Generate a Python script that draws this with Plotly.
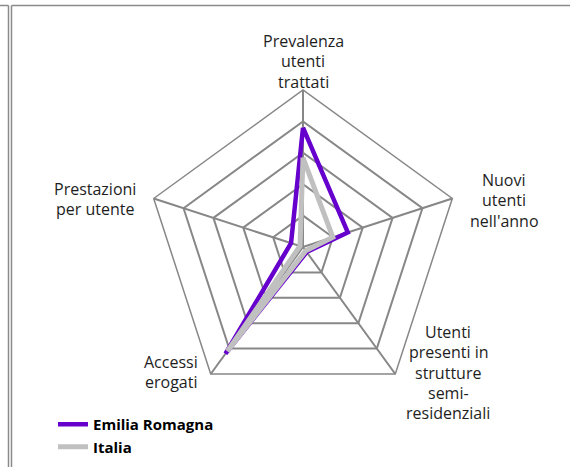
import plotly.graph_objects as go

W, H = 570, 467

categories = [
    "Prevalenza utenti trattati",
    "Nuovi utenti nell'anno",
    "Utenti presenti in strutture semi-residenziali",
    "Accessi erogati",
    "Prestazioni per utente",
]
label_lines = [
    ["Prevalenza", "utenti", "trattati"],
    ["Nuovi", "utenti", "nell'anno"],
    ["Utenti", "presenti in", "strutture", "semi-", "residenziali"],
    ["Accessi", "erogati"],
    ["Prestazioni", "per utente"],
]
emilia = [3.8, 1.5, 0.2, 4.2, 0.4]
italia = [2.85, 1.0, 0.15, 4.1, 0.1]

# label block: centre x and y of first line (pixels)
label_pos = [(303, 41), (504, 180), (448, 332), (171, 362), (95, 189)]
LINE = 20.3


def px(x, y):
    return x / W, 1 - y / H


fig = go.Figure()
fig.add_trace(go.Scatterpolar(
    r=emilia + emilia[:1], theta=categories + categories[:1],
    mode="lines", name="Emilia Romagna", legendgroup="er",
    line=dict(color="#6600CC", width=4.5),
))
fig.add_trace(go.Scatterpolar(
    r=italia + italia[:1], theta=categories + categories[:1],
    mode="lines", name="Italia", legendgroup="it",
    line=dict(color="#C0C0C0", width=5),
))

# polar area: centre (303, 247), radius 157 pixels
cx, cy, R = 303, 247, 157
x0, y0 = px(cx - R, cy + R)
x1, y1 = px(cx + R, cy - R)

grid = "#878787"
fig.update_layout(
    width=W, height=H,
    margin=dict(l=0, r=0, t=0, b=0),
    paper_bgcolor="white",
    font=dict(family="Open Sans, sans-serif", size=16, color="#1e1e1e"),
    polar=dict(
        domain=dict(x=[x0, x1], y=[y0, y1]),
        bgcolor="white",
        gridshape="linear",
        radialaxis=dict(range=[0, 5], dtick=1, showticklabels=False, ticks="",
                        showline=False, gridcolor=grid, gridwidth=1.5),
        angularaxis=dict(direction="clockwise", rotation=90, showticklabels=False,
                         ticks="", showline=True, linecolor=grid, linewidth=1.5,
                         gridcolor=grid, gridwidth=1.5),
    ),
    legend=dict(x=53 / W, y=1 - 408 / H, xanchor="left", yanchor="top",
                font=dict(family="Open Sans, sans-serif", size=15, color="#000000",
                          weight="bold"),
                tracegroupgap=0,
                bgcolor="rgba(0,0,0,0)"),
    showlegend=True,
)

for lines, (lx, ly) in zip(label_lines, label_pos):
    for i, line in enumerate(lines):
        ax, ay = px(lx, ly + i * LINE)
        fig.add_annotation(text=line, x=ax, y=ay, xref="paper", yref="paper",
                           xanchor="center", yanchor="middle",
                           showarrow=False)

# cell frame lines
frame = dict(color="#8a8a8a", width=1.5)
_, ty = px(0, 5.5)
xa = px(8.5, 0)[0]
xb = px(11.5, 0)[0]
fig.add_shape(type="line", xref="paper", yref="paper",
              x0=0, y0=ty, x1=xa, y1=ty, line=frame)
fig.add_shape(type="line", xref="paper", yref="paper",
              x0=xb, y0=ty, x1=1, y1=ty, line=frame)
fig.add_shape(type="line", xref="paper", yref="paper",
              x0=xa, y0=0, x1=xa, y1=ty, line=frame)
fig.add_shape(type="line", xref="paper", yref="paper",
              x0=xb, y0=0, x1=xb, y1=ty, line=frame)

fig.write_html("out.html", config={"displayModeBar": False},
               post_script="document.body.style.margin='0px';")
